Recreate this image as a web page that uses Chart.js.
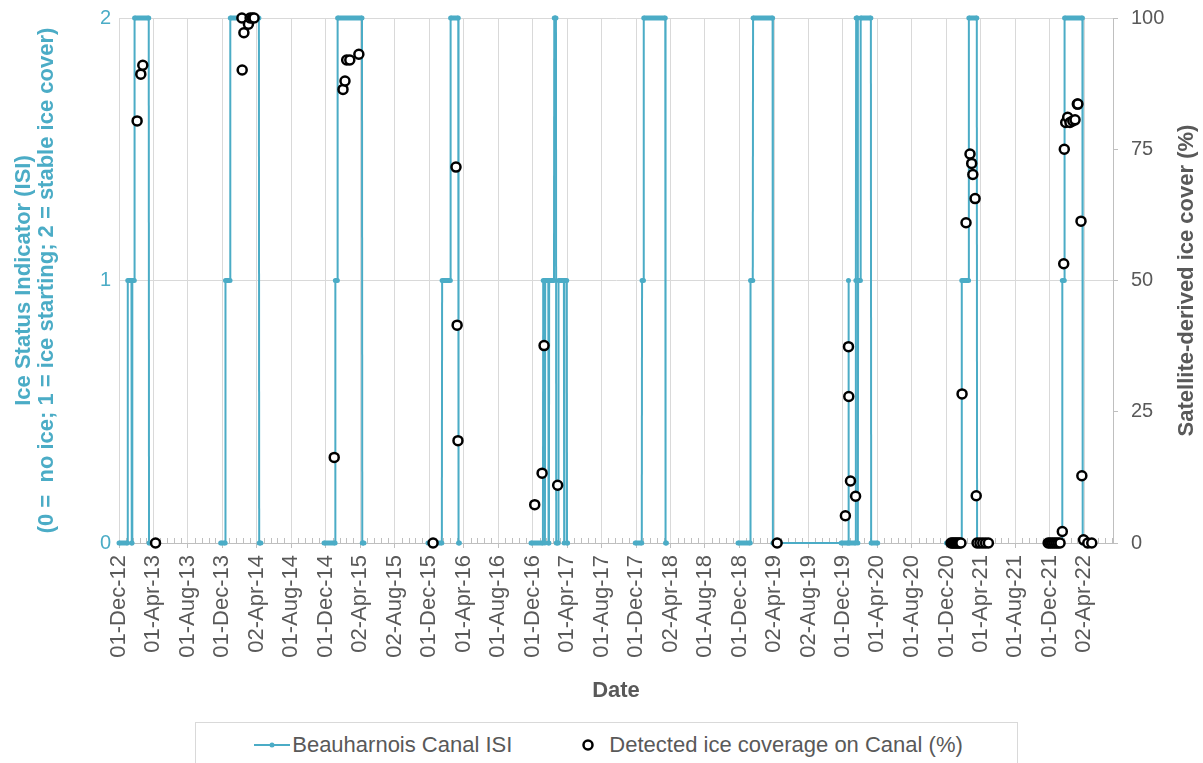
<!DOCTYPE html>
<html>
<head>
<meta charset="utf-8">
<script src="https://cdn.jsdelivr.net/npm/chart.js@4.4.1/dist/chart.umd.min.js"></script>
<style>
html,body{margin:0;padding:0;background:#fff;overflow:hidden;}
#wrap{position:relative;width:1203px;height:763px;}
#legend{position:absolute;left:195px;top:722px;width:823px;height:70px;border:1px solid #D9D9D9;box-sizing:border-box;background:#fff;
  display:flex;justify-content:center;align-items:flex-start;padding-top:9px;padding-left:4px;
  font:22px "Liberation Sans",Arial,sans-serif;color:#595959;}
.item{display:flex;align-items:center;height:26px;white-space:nowrap;}
</style>
</head>
<body>
<div id="wrap">
  <canvas id="c" width="1203" height="763"></canvas>
  <div id="legend"></div>
</div>
<script>
// ---------------- data ----------------
const tickLabels = ['01-Dec-12','01-Apr-13','01-Aug-13','01-Dec-13','02-Apr-14','01-Aug-14','01-Dec-14','02-Apr-15','02-Aug-15',
  '01-Dec-15','01-Apr-16','01-Aug-16','01-Dec-16','01-Apr-17','01-Aug-17','01-Dec-17','02-Apr-18','01-Aug-18','01-Dec-18',
  '02-Apr-19','02-Aug-19','01-Dec-19','01-Apr-20','01-Aug-20','01-Dec-20','01-Apr-21','01-Aug-21','01-Dec-21','02-Apr-22'];

const axisStart = '2012-12-01';
const axisEnd = '2022-07-12';

// Ice Status Indicator (null = no record / gap in the series)
const isiDates = [
  '2012-12-01','2012-12-31','2013-01-01','2013-01-14','2013-01-15','2013-01-16','2013-01-17','2013-01-24','2013-01-25','2013-03-16','2013-03-17','2013-03-20',
  '2013-08-01',
  '2013-11-25','2013-12-11','2013-12-12','2013-12-28','2013-12-29','2014-04-09','2014-04-10','2014-04-16',
  '2014-08-01',
  '2014-11-25','2015-01-03','2015-01-04','2015-01-11','2015-01-12','2015-04-08','2015-04-09','2015-04-15',
  '2015-08-01',
  '2015-11-27','2016-01-15','2016-01-16','2016-02-14','2016-02-15','2016-03-13','2016-03-14','2016-03-17',
  '2016-08-01',
  '2016-11-25','2017-01-06','2017-01-07','2017-01-12','2017-01-13','2017-01-14','2017-01-25','2017-01-26','2017-01-27','2017-01-28',
  '2017-02-14','2017-02-15','2017-02-21','2017-02-22','2017-03-01','2017-03-02','2017-03-21','2017-03-22','2017-03-23','2017-03-31','2017-04-01','2017-04-03',
  '2017-08-01',
  '2017-11-28','2017-12-21','2017-12-22','2017-12-27','2017-12-28','2018-03-14','2018-03-15','2018-03-18',
  '2018-08-01',
  '2018-11-26','2019-01-08','2019-01-09','2019-01-17','2019-01-18','2019-03-28','2019-03-29','2019-04-01',
  '2019-11-25','2019-12-20','2019-12-21','2019-12-22','2020-01-15','2020-01-16','2020-01-17','2020-01-22','2020-01-23','2020-01-24',
  '2020-02-01','2020-02-02','2020-03-09','2020-03-10','2020-04-02',
  '2020-08-01',
  '2020-12-01','2021-01-23','2021-01-24','2021-02-17','2021-02-18','2021-03-18','2021-03-19','2021-03-25',
  '2021-08-01',
  '2021-11-29','2022-01-13','2022-01-14','2022-01-21','2022-01-22','2022-03-26','2022-03-27','2022-04-02'
];
const isiValues = [
  0,0,1,1,0,0,1,1,2,2,0,0,
  null,
  0,0,1,1,2,2,0,0,
  null,
  0,0,1,1,2,2,0,0,
  null,
  0,0,1,1,2,2,0,0,
  null,
  0,0,1,1,0,1,1,0,0,1,
  1,2,2,0,0,1,1,0,1,1,0,0,
  null,
  0,0,1,1,2,2,0,0,
  null,
  0,0,1,1,2,2,0,0,
  0,0,1,0,0,1,2,2,0,1,
  1,2,2,0,0,
  null,
  0,0,1,1,2,2,0,0,
  null,
  0,0,1,1,2,2,0,0
];

// Detected ice coverage on the canal (%)
const iceDates = [
  '2013-02-03','2013-02-16','2013-02-23','2013-04-09',
  '2014-02-08','2014-02-09','2014-02-15','2014-03-03','2014-03-09','2014-03-17','2014-03-23',
  '2014-12-31','2015-01-31','2015-02-07','2015-02-13','2015-02-24','2015-03-28',
  '2015-12-15','2016-03-05','2016-03-09','2016-03-12',
  '2016-12-08','2017-01-03','2017-01-10','2017-02-27',
  '2019-04-13',
  '2019-12-10','2019-12-21','2019-12-22','2019-12-28','2020-01-15',
  '2020-12-17','2020-12-22','2020-12-27','2021-01-01','2021-01-06','2021-01-11','2021-01-16','2021-01-21',
  '2021-01-25','2021-02-08','2021-02-22','2021-02-28','2021-03-04','2021-03-12','2021-03-16',
  '2021-03-19','2021-03-29','2021-04-08','2021-04-18','2021-04-28',
  '2021-11-25','2021-12-02','2021-12-09','2021-12-16','2021-12-23','2021-12-30','2022-01-06',
  '2022-01-14','2022-01-19','2022-01-21','2022-01-26','2022-02-02','2022-02-10','2022-02-20','2022-02-28','2022-03-08','2022-03-10','2022-03-21','2022-03-24',
  '2022-03-30','2022-04-14','2022-04-28'
];
const icePercent = [
  80.4,89.3,91.0,0,
  100,90.1,97.2,98.8,100,100,100,
  16.3,86.4,88.0,92.0,92.0,93.1,
  0,71.6,41.5,19.5,
  7.3,13.3,37.6,11.0,
  0,
  5.2,37.4,27.9,11.8,8.9,
  0,0,0,0,0,0,0,0,
  28.4,61.0,74.1,72.3,70.2,65.6,9.0,
  0,0,0,0,0,
  0,0,0,0,0,0,0,
  2.2,53.2,75.0,80.1,81.1,80.1,80.4,80.6,83.6,83.6,61.3,12.8,
  0.6,0,0
];

const seriesNames = ['Beauharnois Canal ISI', 'Detected ice coverage on Canal (%)'];

// ---------------- helpers ----------------
const DAY = 86400000;
const MONTHS = {Jan:0,Feb:1,Mar:2,Apr:3,May:4,Jun:5,Jul:6,Aug:7,Sep:8,Oct:9,Nov:10,Dec:11};
function isoDay(s){ const [y,m,d] = s.split('-').map(Number); return Date.UTC(y,m-1,d); }
const t0 = isoDay(axisStart);
function dayOf(s){ return (isoDay(s) - t0) / DAY; }
function labelDay(s){ const [d,mon,yy] = s.split('-'); return (Date.UTC(2000+Number(yy), MONTHS[mon], Number(d)) - t0) / DAY; }
const tickDays = tickLabels.map(labelDay);

const TEAL = '#4BACC6';
const GRAY = '#595959';
const GRID = '#D9D9D9';
const AXIS = '#BFBFBF';
const FONT = '"Liberation Sans", Arial, sans-serif';

const isiPoints = isiDates.map((d,i) => ({x: dayOf(d), y: isiValues[i]}));
const icePoints = iceDates.map((d,i) => ({x: dayOf(d), y: icePercent[i]}));

// minor tick marks (one fifth of the major unit), drawn upward from the date axis
const minorTicks = {
  id: 'minorTicks',
  beforeDatasetsDraw(chart){
    const xs = chart.scales.x, ctx = chart.ctx, y0 = xs.top;
    ctx.save(); ctx.strokeStyle = AXIS; ctx.lineWidth = 1; ctx.beginPath();
    for (let i = 0; i < tickDays.length; i++){
      const a = tickDays[i];
      const next = i + 1 < tickDays.length ? tickDays[i+1] : a + (a - tickDays[i-1]);
      const step = (next - a) / 5;
      for (let k = 1; k < 5; k++){
        const v = a + k*step; if (v >= xs.max) break;
        const px = Math.round(xs.getPixelForValue(v)) + 0.5;
        ctx.moveTo(px, y0); ctx.lineTo(px, y0 - 5);
      }
    }
    ctx.stroke(); ctx.restore();
  }
};

// right axis title reading bottom-to-top like the left one
const rightTitle = {
  id: 'rightTitle',
  afterDraw(chart){
    const s = chart.scales.y1, ctx = chart.ctx;
    ctx.save();
    ctx.translate(s.right - 16, (s.top + s.bottom) / 2);
    ctx.rotate(-Math.PI/2);
    ctx.textAlign = 'center'; ctx.textBaseline = 'middle';
    ctx.font = 'bold 22px ' + FONT; ctx.fillStyle = GRAY;
    ctx.fillText(s.options.title.text, 0, 0);
    ctx.restore();
  }
};

const chart = new Chart(document.getElementById('c'), {
  type: 'scatter',
  data: {
    datasets: [
      {
        label: seriesNames[0],
        data: isiPoints,
        yAxisID: 'y',
        showLine: true,
        spanGaps: false,
        borderColor: TEAL,
        backgroundColor: TEAL,
        borderWidth: 2,
        pointRadius: 2.5,
        pointBorderWidth: 0,
        pointBackgroundColor: TEAL,
        tension: 0,
        order: 2,
        clip: false,
        segment: {
          borderWidth: ctx => {
            const a = ctx.p0.parsed, b = ctx.p1.parsed;
            return (a.y === b.y && (b.x - a.x) < 150) ? 5 : 2;
          }
        }
      },
      {
        label: seriesNames[1],
        data: icePoints,
        yAxisID: 'y1',
        showLine: false,
        pointRadius: 4.5,
        pointBorderWidth: 2.5,
        pointBorderColor: '#000',
        pointBackgroundColor: '#fff',
        borderColor: '#000',
        backgroundColor: '#fff',
        order: 1,
        clip: false
      }
    ]
  },
  options: {
    responsive: false,
    animation: false,
    events: [],
    layout: { autoPadding: false, padding: { left: 0, right: 0, top: 18, bottom: 59 } },
    plugins: { legend: { display: false }, tooltip: { enabled: false } },
    scales: {
      x: {
        type: 'linear',
        min: 0,
        max: dayOf(axisEnd),
        afterBuildTicks: s => { s.ticks = tickDays.map(v => ({value: v})); },
        afterFit: s => { s.height = 161; },
        ticks: {
          autoSkip: false, minRotation: 90, maxRotation: 90, padding: 7,
          color: GRAY, font: { family: FONT, size: 22 },
          callback: (v, i) => tickLabels[i]
        },
        grid: { color: GRID, lineWidth: 1, tickLength: 5, tickColor: AXIS },
        border: { color: AXIS, width: 1 },
        title: { display: true, text: 'Date', color: GRAY, font: { family: FONT, size: 22, weight: 'bold' }, padding: { top: 0, bottom: 0 } }
      },
      y: {
        position: 'left',
        min: 0, max: 2,
        afterBuildTicks: s => { s.ticks = [0,1,2].map(v => ({value: v})); },
        afterFit: s => { s.width = 119; s.paddingTop = 12; s.paddingBottom = 12; },
        ticks: { color: TEAL, font: { family: FONT, size: 20 }, padding: 8 },
        grid: { color: GRID, lineWidth: 1, drawTicks: false },
        border: { color: GRID },
        title: {
          display: true,
          text: ['Ice Status Indicator (ISI)', '(0 =  no ice; 1 = ice starting; 2 = stable ice cover)'],
          color: TEAL, font: { family: FONT, size: 22, weight: 'bold', lineHeight: 1.05 },
          padding: { top: 12, bottom: 0 }
        }
      },
      y1: {
        position: 'right',
        min: 0, max: 100,
        ticks: { stepSize: 25, color: GRAY, font: { family: FONT, size: 20 }, padding: 13 },
        afterFit: s => { s.width = 90; s.paddingTop = 12; s.paddingBottom = 12; },
        grid: { drawOnChartArea: false, tickLength: 5, color: AXIS },
        border: { color: AXIS },
        title: { display: false, text: 'Satellite-derived ice cover (%)' }
      }
    }
  },
  plugins: [minorTicks, rightTitle]
});

// HTML legend built from the chart's datasets
(function(){
  const lg = document.getElementById('legend');
  const ds = chart.data.datasets;
  const lineIcon = '<svg width="36" height="12" style="display:block"><line x1="0" y1="6" x2="36" y2="6" stroke="'+TEAL+'" stroke-width="2"/><circle cx="18" cy="6" r="2.5" fill="'+TEAL+'"/></svg>';
  const circIcon = '<svg width="14" height="14" style="display:block"><circle cx="7" cy="7" r="4.5" fill="#fff" stroke="#000" stroke-width="2.5"/></svg>';
  lg.innerHTML =
    '<div class="item">' + lineIcon + '<span style="margin-left:2px">' + ds[0].label + '</span></div>' +
    '<div class="item" style="margin-left:69px">' + circIcon + '<span style="margin-left:14px">' + ds[1].label + '</span></div>';
})();
</script>
</body>
</html>
